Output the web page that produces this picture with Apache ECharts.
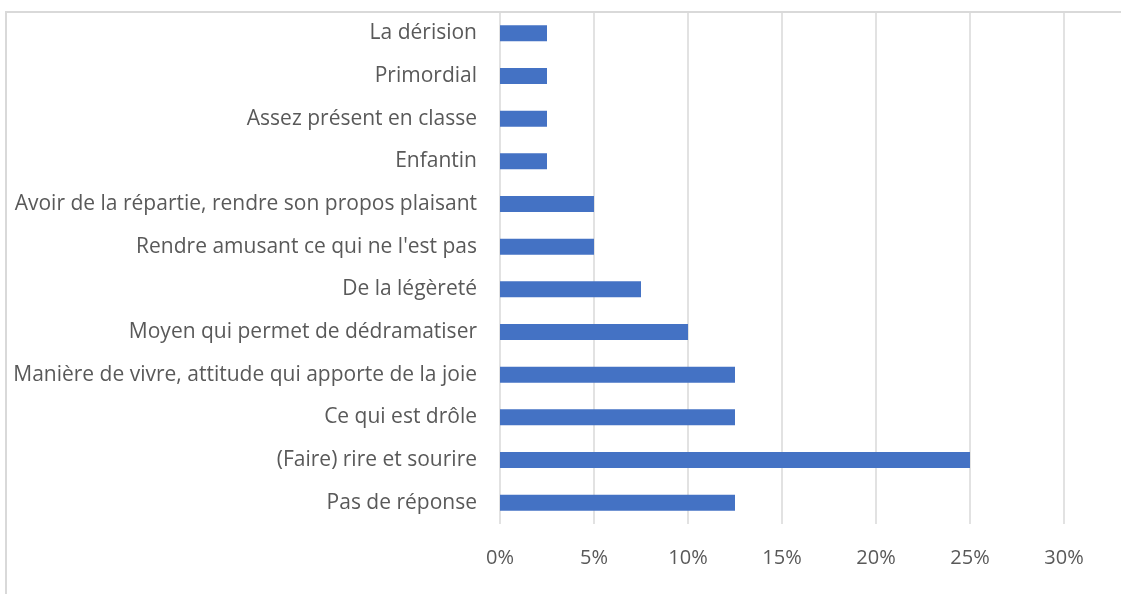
<!DOCTYPE html>
<html>
<head>
<meta charset="utf-8">
<script src="https://cdn.jsdelivr.net/npm/echarts@6/dist/echarts.min.js"></script>
<style>
  html, body { margin: 0; padding: 0; background: #fff; }
  #chart { width: 1121px; height: 594px; }
</style>
</head>
<body>
<div id="chart"></div>
<script>
// categories listed bottom to top
const categories = [
  "Pas de réponse",
  "(Faire) rire et sourire",
  "Ce qui est drôle",
  "Manière de vivre, attitude qui apporte de la joie",
  "Moyen qui permet de dédramatiser",
  "De la légèreté",
  "Rendre amusant ce qui ne l'est pas",
  "Avoir de la répartie, rendre son propos plaisant",
  "Enfantin",
  "Assez présent en classe",
  "Primordial",
  "La dérision"
];
const values = [12.5, 25, 12.5, 12.5, 10, 7.5, 5, 5, 2.5, 2.5, 2.5, 2.5];

const myChart = echarts.init(document.getElementById("chart"));

const textColor = "#595959";
const fontFamily = "'Open Sans', sans-serif";

const option = {
  animation: false,
  grid: {
    left: 500,
    right: 57,
    top: 12,
    bottom: 70,
    containLabel: false
  },
  graphic: [
    {
      // outer chart frame (left and top edges only visible)
      type: "polyline",
      shape: { points: [[6, 594], [6, 12], [1121, 12]] },
      style: { fill: null, stroke: "#d9d9d9", lineWidth: 2 },
      silent: true
    }
  ],
  xAxis: {
    type: "value",
    min: 0,
    max: 30,
    interval: 5,
    axisLine: { show: false },
    axisTick: { show: false },
    splitLine: { lineStyle: { color: "#d9d9d9", width: 1.5 } },
    axisLabel: {
      color: textColor,
      fontFamily: fontFamily,
      fontSize: 20,
      margin: 24,
      formatter: "{value}%"
    }
  },
  yAxis: {
    type: "category",
    data: categories,
    axisLine: { show: false },
    axisTick: { show: false },
    axisLabel: {
      color: textColor,
      fontFamily: fontFamily,
      fontSize: 21,
      margin: 23,
      padding: [4, 0, 0, 0]
    }
  },
  series: [
    {
      type: "bar",
      data: values,
      barWidth: 16,
      itemStyle: { color: "#4472C4" }
    }
  ]
};

myChart.setOption(option);
</script>
</body>
</html>
